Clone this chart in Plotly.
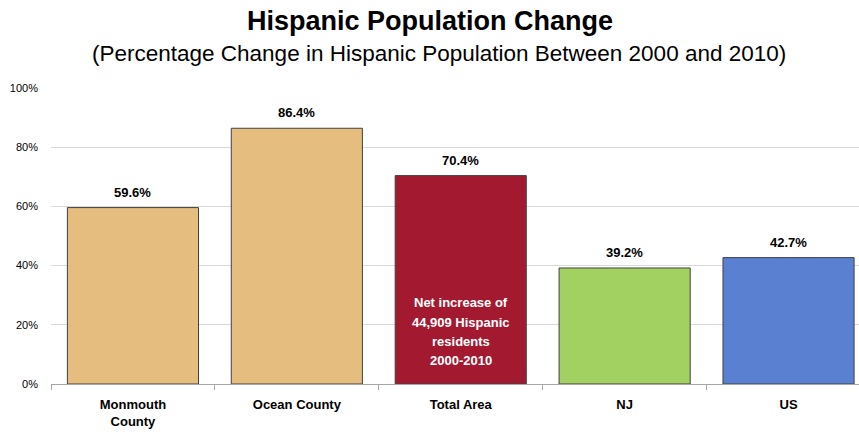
import plotly.graph_objects as go

categories = ["Monmouth<br>County", "Ocean County", "Total Area", "NJ", "US"]
values = [59.6, 86.4, 70.4, 39.2, 42.7]
value_labels = ["59.6%", "86.4%", "70.4%", "39.2%", "42.7%"]
colors = ["#E5BD7E", "#E5BD7E", "#A31A30", "#A2D162", "#5A80D2"]
note_lines = ["Net increase of", "44,909 Hispanic", "residents", "2000-2010"]
y_ticks = [0, 20, 40, 60, 80, 100]
y_tick_labels = ["0%", "20%", "40%", "60%", "80%", "100%"]

FONT = "Liberation Sans, Arial, sans-serif"

fig = go.Figure()
fig.add_trace(go.Bar(
    x=categories, y=values,
    marker=dict(color=colors, line=dict(color="#404040", width=1)),
    width=0.8,
    hoverinfo="skip",
))

annotations = []
for c, v, t in zip(categories, values, value_labels):
    annotations.append(dict(x=c, y=v, text="<b>%s</b>" % t, showarrow=False,
                            yanchor="bottom", yshift=6,
                            font=dict(family=FONT, size=13, color="#000000")))
n = len(note_lines)
for i, line in enumerate(note_lines):
    annotations.append(dict(x=categories[2], y=17.6, text="<b>%s</b>" % line,
                            showarrow=False, yanchor="middle",
                            yshift=((n - 1) / 2 - i) * 19.3,
                            font=dict(family=FONT, size=13, color="#FFFFFF")))
annotations.append(dict(xref="paper", yref="paper", x=0.48, y=1, xanchor="center",
                        yanchor="middle", yshift=35,
                        text="(Percentage Change in Hispanic Population Between 2000 and 2010)",
                        showarrow=False, font=dict(family=FONT, size=22.5, color="#000000")))

fig.update_layout(
    width=859, height=432,
    margin=dict(l=51, r=0, t=88, b=48),
    paper_bgcolor="white", plot_bgcolor="white",
    showlegend=False,
    title=dict(text="<b>Hispanic Population Change</b>", x=430 / 859, xref="container",
               xanchor="center", y=1 - 21 / 432, yanchor="middle",
               font=dict(family=FONT, size=27, color="#000000")),
    xaxis=dict(range=[-0.5, 4.43], showline=True, linecolor="#A6A6A6", linewidth=1,
               ticks="outside", ticklen=5, tickcolor="#A6A6A6", tickson="boundaries",
               tickfont=dict(family=FONT, size=13, color="#000000"),
               ticklabelstandoff=8,
               showgrid=False, fixedrange=True, automargin=False),
    yaxis=dict(range=[0, 100], tickvals=y_ticks, ticktext=y_tick_labels,
               showgrid=True, gridcolor="#D9D9D9", gridwidth=1,
               zeroline=False, showline=False, ticks="",
               tickfont=dict(family=FONT, size=11, color="#000000"),
               ticklabelstandoff=12, automargin=False, fixedrange=True),
    annotations=annotations,
    bargap=0.2,
)
fig.update_xaxes(tickprefix="<b>", ticksuffix="</b>")

fig.write_html("out.html", config={"displayModeBar": False},
               post_script="document.body.style.margin='0';document.body.style.overflow='hidden';")
